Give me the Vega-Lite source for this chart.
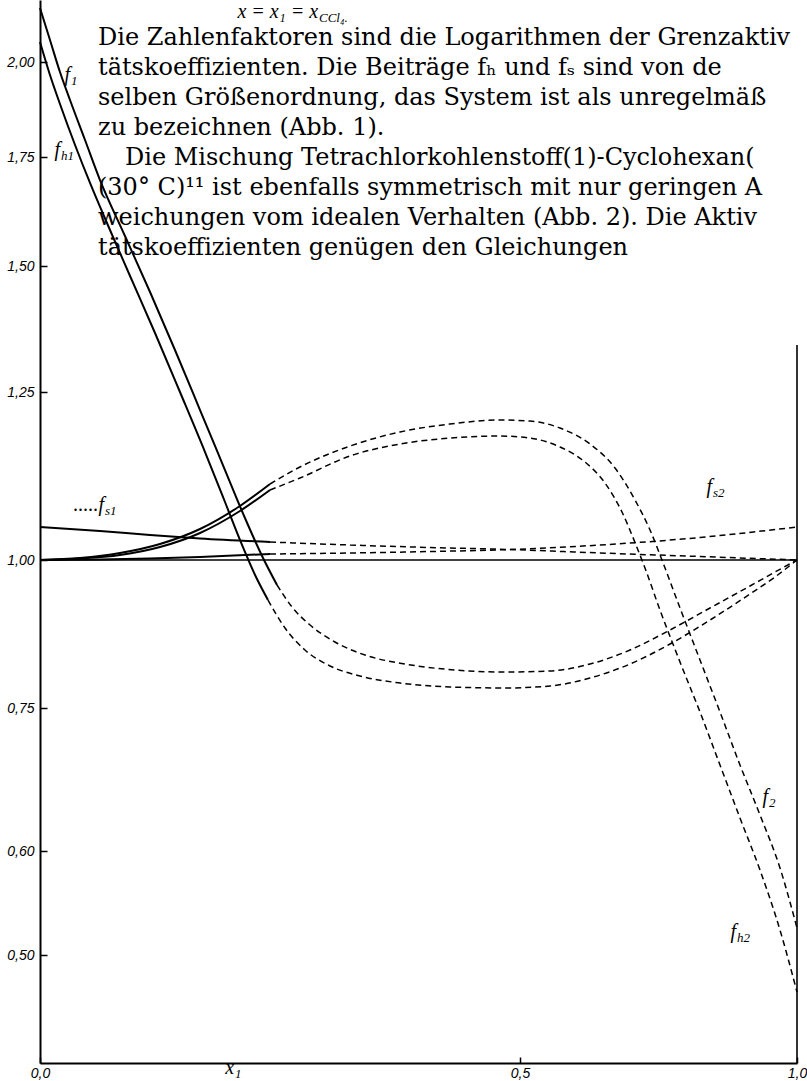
{
"$schema":"https://vega.github.io/schema/vega-lite/v6.json",
"width":757,"height":1063,"autosize":"none",
"padding":{"left":40,"top":0,"right":10,"bottom":18},
"background":"white",
"config":{"view":{"stroke":null},"axis":{"grid":false,"domainColor":"black","tickColor":"black","labelColor":"black"}},
"datasets":{
"curves":[
{"c":"1","p":"s","x":0,"y":2.1585},{"c":"1","p":"s","x":0.0104,"y":2.0646},{"c":"1","p":"s","x":0.0208,"y":1.9737},{"c":"1","p":"s","x":0.03125,"y":1.9},{"c":"1","p":"s","x":0.0469,"y":1.7947},{"c":"1","p":"s","x":0.0625,"y":1.6972},{"c":"1","p":"s","x":0.0885,"y":1.5688},{"c":"1","p":"s","x":0.1146,"y":1.4484},{"c":"1","p":"s","x":0.1406,"y":1.3333},{"c":"1","p":"s","x":0.1667,"y":1.2232},{"c":"1","p":"s","x":0.1927,"y":1.1339},{"c":"1","p":"s","x":0.2135,"y":1.0625},{"c":"1","p":"s","x":0.2313,"y":1.006},{"c":"1","p":"s","x":0.2469,"y":0.9578},
{"c":"1","p":"d","x":0.2469,"y":0.9578},{"c":"1","p":"d","x":0.2625,"y":0.9206},{"c":"1","p":"d","x":0.2813,"y":0.8902},{"c":"1","p":"d","x":0.3073,"y":0.8615},{"c":"1","p":"d","x":0.3385,"y":0.8395},{"c":"1","p":"d","x":0.3802,"y":0.8243},{"c":"1","p":"d","x":0.4323,"y":0.8142},{"c":"1","p":"d","x":0.4844,"y":0.8108},{"c":"1","p":"d","x":0.5542,"y":0.8125},{"c":"1","p":"d","x":0.6264,"y":0.8243},{"c":"1","p":"d","x":0.6986,"y":0.848},{"c":"1","p":"d","x":0.7708,"y":0.8818},{"c":"1","p":"d","x":0.843,"y":0.9189},{"c":"1","p":"d","x":0.9152,"y":0.9561},{"c":"1","p":"d","x":0.9603,"y":0.9797},{"c":"1","p":"d","x":1,"y":1.0},
{"c":"h1","p":"s","x":0,"y":2.0587},{"c":"h1","p":"s","x":0.0104,"y":1.9658},{"c":"h1","p":"s","x":0.0208,"y":1.8895},{"c":"h1","p":"s","x":0.0365,"y":1.7816},{"c":"h1","p":"s","x":0.0521,"y":1.6904},{"c":"h1","p":"s","x":0.0729,"y":1.5826},{"c":"h1","p":"s","x":0.0938,"y":1.4802},{"c":"h1","p":"s","x":0.1198,"y":1.3671},{"c":"h1","p":"s","x":0.1458,"y":1.25},{"c":"h1","p":"s","x":0.1719,"y":1.1607},{"c":"h1","p":"s","x":0.1927,"y":1.0863},{"c":"h1","p":"s","x":0.2083,"y":1.0298},{"c":"h1","p":"s","x":0.224,"y":0.9747},{"c":"h1","p":"s","x":0.2375,"y":0.9324},
{"c":"h1","p":"d","x":0.2375,"y":0.9324},{"c":"h1","p":"d","x":0.2552,"y":0.8851},{"c":"h1","p":"d","x":0.276,"y":0.848},{"c":"h1","p":"d","x":0.3021,"y":0.821},{"c":"h1","p":"d","x":0.3333,"y":0.8041},{"c":"h1","p":"d","x":0.375,"y":0.7922},{"c":"h1","p":"d","x":0.4271,"y":0.7855},{"c":"h1","p":"d","x":0.4844,"y":0.7838},{"c":"h1","p":"d","x":0.5542,"y":0.7872},{"c":"h1","p":"d","x":0.6264,"y":0.8007},{"c":"h1","p":"d","x":0.6986,"y":0.8243},{"c":"h1","p":"d","x":0.7708,"y":0.8581},{"c":"h1","p":"d","x":0.843,"y":0.8986},{"c":"h1","p":"d","x":0.9152,"y":0.9426},{"c":"h1","p":"d","x":0.9603,"y":0.9713},{"c":"h1","p":"d","x":1,"y":1.0},
{"c":"2","p":"s","x":0,"y":1.0},{"c":"2","p":"s","x":0.0417,"y":1.003},{"c":"2","p":"s","x":0.0833,"y":1.0104},{"c":"2","p":"s","x":0.125,"y":1.0238},{"c":"2","p":"s","x":0.1667,"y":1.0461},{"c":"2","p":"s","x":0.2083,"y":1.0804},{"c":"2","p":"s","x":0.2396,"y":1.1131},
{"c":"2","p":"d","x":0.2396,"y":1.1131},{"c":"2","p":"d","x":0.2708,"y":1.1384},{"c":"2","p":"d","x":0.3229,"y":1.1696},{"c":"2","p":"d","x":0.375,"y":1.1905},{"c":"2","p":"d","x":0.4271,"y":1.2024},{"c":"2","p":"d","x":0.4792,"y":1.2083},{"c":"2","p":"d","x":0.5181,"y":1.2068},{"c":"2","p":"d","x":0.5722,"y":1.1964},{"c":"2","p":"d","x":0.6264,"y":1.1726},{"c":"2","p":"d","x":0.6715,"y":1.1369},{"c":"2","p":"d","x":0.7076,"y":1.0893},{"c":"2","p":"d","x":0.7347,"y":1.0446},{"c":"2","p":"d","x":0.7563,"y":1.0},{"c":"2","p":"d","x":0.7888,"y":0.9189},{"c":"2","p":"d","x":0.8249,"y":0.8311},{"c":"2","p":"d","x":0.861,"y":0.7458},{"c":"2","p":"d","x":0.8971,"y":0.6902},{"c":"2","p":"d","x":0.9332,"y":0.6378},{"c":"2","p":"d","x":0.9693,"y":0.5837},{"c":"2","p":"d","x":1,"y":0.526},
{"c":"h2","p":"s","x":0,"y":1.0},{"c":"h2","p":"s","x":0.0417,"y":1.0022},{"c":"h2","p":"s","x":0.0833,"y":1.0074},{"c":"h2","p":"s","x":0.125,"y":1.0193},{"c":"h2","p":"s","x":0.1667,"y":1.0402},{"c":"h2","p":"s","x":0.2083,"y":1.0729},{"c":"h2","p":"s","x":0.2396,"y":1.1042},
{"c":"h2","p":"d","x":0.2396,"y":1.1042},{"c":"h2","p":"d","x":0.2708,"y":1.122},{"c":"h2","p":"d","x":0.3229,"y":1.1548},{"c":"h2","p":"d","x":0.375,"y":1.1726},{"c":"h2","p":"d","x":0.4271,"y":1.1815},{"c":"h2","p":"d","x":0.4792,"y":1.1845},{"c":"h2","p":"d","x":0.5181,"y":1.1815},{"c":"h2","p":"d","x":0.5722,"y":1.1682},{"c":"h2","p":"d","x":0.6173,"y":1.1458},{"c":"h2","p":"d","x":0.6534,"y":1.1146},{"c":"h2","p":"d","x":0.6841,"y":1.0714},{"c":"h2","p":"d","x":0.7094,"y":1.0223},{"c":"h2","p":"d","x":0.7256,"y":0.9865},{"c":"h2","p":"d","x":0.7527,"y":0.9155},{"c":"h2","p":"d","x":0.7888,"y":0.8277},{"c":"h2","p":"d","x":0.8249,"y":0.7458},{"c":"h2","p":"d","x":0.861,"y":0.6902},{"c":"h2","p":"d","x":0.8971,"y":0.6346},{"c":"h2","p":"d","x":0.9332,"y":0.5817},{"c":"h2","p":"d","x":0.9693,"y":0.524},{"c":"h2","p":"d","x":1,"y":0.4705},
{"c":"s1","p":"s","x":0,"y":1.0491},{"c":"s1","p":"s","x":0.0625,"y":1.0432},{"c":"s1","p":"s","x":0.1146,"y":1.0372},{"c":"s1","p":"s","x":0.1667,"y":1.032},{"c":"s1","p":"s","x":0.2396,"y":1.0268},
{"c":"s1","p":"d","x":0.2396,"y":1.0268},{"c":"s1","p":"d","x":0.3229,"y":1.0223},{"c":"s1","p":"d","x":0.4063,"y":1.0186},{"c":"s1","p":"d","x":0.4896,"y":1.0156},{"c":"s1","p":"d","x":0.6444,"y":1.0104},{"c":"s1","p":"d","x":0.8249,"y":1.0052},{"c":"s1","p":"d","x":1,"y":1.0},
{"c":"s2","p":"s","x":0,"y":1.0},{"c":"s2","p":"s","x":0.0625,"y":1.0007},{"c":"s2","p":"s","x":0.1146,"y":1.0022},{"c":"s2","p":"s","x":0.1667,"y":1.0045},{"c":"s2","p":"s","x":0.2396,"y":1.0089},
{"c":"s2","p":"d","x":0.2396,"y":1.0089},{"c":"s2","p":"d","x":0.3229,"y":1.0104},{"c":"s2","p":"d","x":0.4063,"y":1.0126},{"c":"s2","p":"d","x":0.4896,"y":1.0156},{"c":"s2","p":"d","x":0.6444,"y":1.0223},{"c":"s2","p":"d","x":0.8249,"y":1.0335},{"c":"s2","p":"d","x":1,"y":1.0491}
],
"labels":[
{"m":"f","s":"1","x":0.03125,"y":1.9658},
{"m":"f","s":"h1","x":0.0208,"y":1.7684},
{"m":".....f","s":"s1","x":0.0667,"y":1.0818},
{"m":"f","s":"s2","x":0.8466,"y":1.1086},
{"m":"f","s":"2","x":0.9477,"y":0.6566},
{"m":"f","s":"h2","x":0.8899,"y":0.5221},
{"m":"x","s":"1","x":0.2021,"y":0.41},
{"m":"x = x₁ = x","s":"CCl₄.","x":0.2896,"y":2.1468}
],
"para":[
{"t":"Die Zahlenfaktoren sind die Logarithmen der Grenzaktiv","x":0.0604,"y":2.0499},
{"t":"tätskoeffizienten. Die Beiträge fₕ und fₛ sind von de","x":0.0604,"y":1.9658},
{"t":"selben Größenordnung, das System ist als unregelmäß","x":0.0604,"y":1.8868},
{"t":"zu bezeichnen (Abb. 1).","x":0.0604,"y":1.8079},
{"t":"Die Mischung Tetrachlorkohlenstoff(1)-Cyclohexan(","x":0.0885,"y":1.7317},
{"t":"(30° C)¹¹ ist ebenfalls symmetrisch mit nur geringen A","x":0.0604,"y":1.6628},
{"t":"weichungen vom idealen Verhalten (Abb. 2). Die Aktiv","x":0.0604,"y":1.594},
{"t":"tätskoeffizienten genügen den Gleichungen","x":0.0604,"y":1.5252}
]
},
"layer":[
{"data":{"name":"curves"},"transform":[{"filter":"datum.p==='s'"}],
 "mark":{"type":"line","color":"black","strokeWidth":2,"interpolate":"monotone"},
 "encoding":{
  "x":{"field":"x","type":"quantitative","title":null,"scale":{"type":"linear","domain":[0,0.5,1],"range":[0,480,757],"nice":false,"zero":false},
       "axis":{"title":null,"values":[0,0.5,1],"labelExpr":"replace(format(datum.value,'.1f'),'.',',')","tickSize":-6,"tickWidth":1.5,"domainWidth":2,"labelPadding":9,"labelFlush":false,"labelFont":"Liberation Sans","labelFontStyle":"italic","labelFontSize":14}},
  "y":{"field":"y","type":"quantitative","title":null,"scale":{"type":"linear","domain":[0.414,0.5,0.6,0.75,1,1.25,1.5,1.75,2,2.182],"range":[1063,955,851,708,560,392,266,157,62,0],"nice":false,"zero":false},
       "axis":{"title":null,"values":[0.5,0.6,0.75,1,1.25,1.5,1.75,2],"labelExpr":"replace(format(datum.value,'.2f'),'.',',')","tickSize":-7,"tickWidth":1.5,"domainWidth":2,"labelPadding":13,"labelFont":"Liberation Sans","labelFontStyle":"italic","labelFontSize":14}},
  "detail":{"field":"c"}
 }},
{"data":{"name":"curves"},"transform":[{"filter":"datum.p==='d'"}],
 "mark":{"type":"line","color":"black","strokeWidth":1.5,"strokeDash":[6,4],"interpolate":"monotone"},
 "encoding":{
  "x":{"field":"x","type":"quantitative","title":null},
  "y":{"field":"y","type":"quantitative","title":null},
  "detail":{"field":"c"}
 }},
{"data":{"values":[{}]},"mark":{"type":"rule","color":"black","strokeWidth":1.6},
 "encoding":{"y":{"datum":1,"type":"quantitative","title":null}}},
{"data":{"values":[{}]},"mark":{"type":"rule","color":"black","strokeWidth":1.6},
 "encoding":{"x":{"datum":1,"type":"quantitative","title":null},
  "y":{"datum":0.414,"type":"quantitative","title":null},
  "y2":{"datum":1.3433}}},
{"data":{"name":"labels"},
 "mark":{"type":"text","align":"right","baseline":"middle","font":"Liberation Serif","fontStyle":"italic","fontSize":20,"color":"black"},
 "encoding":{"x":{"field":"x","type":"quantitative","title":null},
  "y":{"field":"y","type":"quantitative","title":null},
  "text":{"field":"m"}}},
{"data":{"name":"labels"},
 "mark":{"type":"text","align":"left","baseline":"middle","dx":1,"dy":6,"font":"Liberation Serif","fontStyle":"italic","fontSize":13,"color":"black"},
 "encoding":{"x":{"field":"x","type":"quantitative","title":null},
  "y":{"field":"y","type":"quantitative","title":null},
  "text":{"field":"s"}}},
{"data":{"name":"para"},
 "mark":{"type":"text","align":"left","baseline":"alphabetic","font":"DejaVu Serif","fontSize":24,"color":"black"},
 "encoding":{"x":{"field":"x","type":"quantitative","title":null},
  "y":{"field":"y","type":"quantitative","title":null},
  "text":{"field":"t"}}}
]
}
